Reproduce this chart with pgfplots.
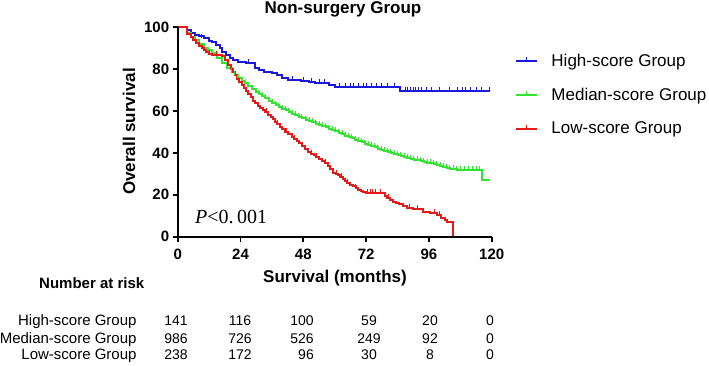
\documentclass[border=0pt]{standalone}
\usepackage{fontspec}
\setmainfont{Liberation Sans}
\newfontfamily\seriffont{Liberation Serif}
\usepackage{pgfplots}
\usepackage{pgfplotstable}
\pgfplotsset{compat=1.18}

\definecolor{kmblue}{RGB}{25,25,215}
\definecolor{kmgreen}{RGB}{45,230,45}
\definecolor{kmred}{RGB}{230,25,25}

\pgfdeclareplotmark{cens}{%
  \pgfpathmoveto{\pgfqpoint{0pt}{0pt}}%
  \pgfpathlineto{\pgfqpoint{0pt}{4pt}}%
  \pgfusepathqstroke}

\pgfplotstableread{
m s
0 100
2.8 100
3.5 98.5
5 97.5
6.5 96.3
8 95.7
10 94.8
12 93.6
13 93.1
14.5 91.5
16 90
17 88.4
18.5 87
20 85.5
21.3 84.4
23 83.5
26 82.8
29.5 80.4
31 79.6
33 78.8
36 78
38 77.2
40 76
42.3 74.8
47 74.5
50 74
52.5 73.2
58 72.4
60 71.3
85 69.6
119.3 69.6
}\highdata

\pgfplotstableread{
m s
9 94.8
27 82.8
44 74.8
48 74.5
51 74
54 73.2
56 73.2
62 71.3
64 71.3
66 71.3
67 71.3
69 71.3
71 71.3
72 71.3
74 71.3
76 71.3
78 71.3
80 71.3
83 71.3
87 69.6
88 69.6
89 69.6
90 69.6
91 69.6
92 69.6
93 69.6
95 69.6
97 69.6
100 69.6
104 69.6
107 69.6
109 69.6
110 69.6
112 69.6
114 69.6
116 69.6
119.3 69.6
}\highcens

\pgfplotstableread{
m s
0 100
2.5 100
3.7 97.1
5 95.5
6.5 94
8 92.2
10 90.3
11.7 89.2
13 87.5
15 85.2
17 83
19 80.5
20.6 78.8
21.8 77.3
23 76
24.5 74.3
25.8 73.2
27 72.1
28.5 70.5
29.8 69.3
31 68.3
32.3 67.2
33.5 66.3
35 65
36.2 64
37.5 63
38.7 62
39.9 61.2
41.2 60.4
42.5 59.6
43.8 58.8
45 58
46.3 57.2
47.5 56.5
49 55.9
50.2 55.4
51.5 54.7
52.8 54
54 53.4
55.3 52.8
56.5 52.2
57.8 51.4
59 50.9
60.3 50.3
61.5 49.7
62.8 49
64 48.3
65.3 47.6
66.5 46.9
67.8 46.3
69 45.6
70.3 45
71.5 44.4
72.8 43.8
74 43.2
75.3 42.7
76.5 42.1
77.8 41.5
79 41
80.3 40.5
81.5 40
82.8 39.4
84 38.9
85.3 38.5
86.5 38
87.8 37.6
89 37.2
90.3 36.8
91.5 36.4
92.8 36
94 35.6
95.3 35.3
96.5 35
97.8 34.5
99 34
100.3 33.6
101.5 33.2
102.8 32.9
104 32.5
105.3 32.2
106.6 31.9
108 31.9
109.5 31.9
111 31.9
112.5 31.9
114 31.9
115.5 31.9
116.2 27.1
117.5 27.1
118.5 27.1
119.3 27.1
}\meddata

\pgfplotstableread{
m s
0 100
2.5 100
3.7 97
5 95.5
6 94
7 92.5
8 91.2
9.2 90
10 89
11 88
12 87.2
13 86.8
16.8 86.5
18 84.5
19.3 82
20.3 80.2
21 78.5
21.8 77
22.5 75.5
23.5 74
24.5 72.4
25.3 71
26 69.5
27 68
28 66.5
28.8 65
29.5 63.7
30.5 62.6
31.5 61.5
32.5 60.5
33.5 59.5
34.5 58.2
35.5 57
36.3 56
37.2 54.9
38 53.7
39 52.5
40 51.3
41 50.2
42.3 49
43.6 47.8
44.5 46.8
45.5 45.8
46.5 44.6
47.5 43.5
48.7 42
49.9 40.6
51 39.7
52 38.8
53 37.9
54 37
55.2 36
56.3 35
57.3 33.8
58.2 32.5
59.5 30.5
60.5 30
61.4 29.5
62.2 28.5
63 27.5
63.8 26.5
64.6 25.5
65.8 24.8
67 24
68 23.2
69 22.5
70 22
70.9 21.5
72 20.7
78.6 20.7
79.3 19.6
80 18.5
81.2 17.6
82.4 16.7
83.5 16.1
84.5 15.5
86 14.5
87.5 13.6
90 13
93.9 11.9
96.5 11.2
99 10.4
100.5 9
102.2 8
103 7.2
105.3 0
}\lowdata

\pgfplotstableread{
m s
12 87.2
15 86.8
30.5 62.6
34 59.5
38 53.7
41.5 50.2
44.5 46.8
47.5 43.5
51 39.7
53 37.9
56.3 35
60.8 30
62.5 28.5
65 25.5
68 23.2
72.5 20.7
73.5 20.7
74.5 20.7
75.5 20.7
77.5 20.7
80.5 18.5
88.5 13.6
91.5 13
98 11.2
100 10.4
}\lowcens

\begin{document}
\begin{tikzpicture}[x=1pt,y=1pt]
\useasboundingbox (0,0) rectangle (709,366);
\begin{axis}[
  at={(177.7pt,129.3pt)}, anchor=south west,
  width=314pt, height=209.4pt, scale only axis,
  xmin=0, xmax=120, ymin=0, ymax=100,
  axis lines=left,
  axis line style={-, line width=2pt, black},
  xtick={0,24,48,72,96,120},
  ytick={0,20,40,60,80,100},
  tick align=outside,
  major tick length=5pt,
  tick style={line width=1.8pt, black},
  /pgf/number format/assume math mode=true,
  tick label style={font=\fontsize{15}{18}\selectfont\bfseries},
  xticklabel style={yshift=-4pt},
  clip=false,
  axis on top,
  legend style={at={(1.075,0.677)}, anchor=west, draw=none, fill=none,
    font=\fontsize{17}{20}\selectfont, row sep=16pt, inner sep=0pt,
    /tikz/every odd column/.append style={column sep=11pt},
    legend cell align=left},
  legend image code/.code={%
    \draw[#1, line width=2pt] (0pt,0pt) -- (21pt,0pt);
    \draw[#1, line width=1pt] (10.5pt,0pt) -- (10.5pt,4pt);},
]
\addplot[const plot, kmblue, line width=2pt] table[x=m,y=s]{\highdata};
\addlegendentry{High-score Group}
\addplot[const plot, kmgreen, line width=2pt] table[x=m,y=s]{\meddata};
\addlegendentry{Median-score Group}
\addplot[const plot, kmred, line width=2pt] table[x=m,y=s]{\lowdata};
\addlegendentry{Low-score Group}
\addplot[only marks, mark=cens, kmblue, mark options={line width=1pt}, forget plot] table[x=m,y=s]{\highcens};
\addplot[only marks, mark=cens, kmgreen, mark options={line width=1pt}, forget plot, restrict x to domain=20:117] table[x=m,y=s]{\meddata};
\addplot[only marks, mark=cens, kmred, mark options={line width=1pt}, forget plot] table[x=m,y=s]{\lowcens};
\end{axis}
% titles and labels
\node[anchor=base, font=\fontsize{17}{20}\selectfont\bfseries] at (343,352) {Non-surgery Group};
\node[anchor=base, rotate=90, font=\fontsize{17}{20}\selectfont\bfseries] at (135,234.5) {Overall survival};
\node[anchor=base, font=\fontsize{17}{20}\selectfont\bfseries] at (335,83) {Survival (months)};
\node[anchor=base west, inner sep=0pt, font=\fontsize{20}{24}\selectfont\seriffont] at (195,142.7) {\textit{P}<0.\,001};
% number at risk table
\node[anchor=base west, inner sep=0pt, font=\fontsize{15}{18}\selectfont\bfseries] at (39,77.7) {Number at risk};
\begin{scope}[every node/.style={inner sep=0pt, font=\fontsize{15}{18}\selectfont}]
\node[anchor=base east] at (136.7,40) {High-score Group};
\node[anchor=base east] at (136.7,22.7) {Median-score Group};
\node[anchor=base east] at (136.7,6) {Low-score Group};
\end{scope}
\begin{scope}[every node/.style={inner sep=0pt, anchor=base, font=\fontsize{14}{17}\selectfont}]
\node at (176,40) {141};   \node at (240,40) {116};   \node at (302,40) {100};
\node at (369,40) {59};    \node at (430,40) {20};    \node at (490,40) {0};
\node at (176,22.7) {986}; \node at (240,22.7) {726}; \node at (302,22.7) {526};
\node at (369,22.7) {249}; \node at (430,22.7) {92};  \node at (490,22.7) {0};
\node at (176,6) {238};    \node at (240,6) {172};    \node at (306,6) {96};
\node at (369,6) {30};     \node at (430,6) {8};      \node at (490,6) {0};
\end{scope}
\end{tikzpicture}
\end{document}
